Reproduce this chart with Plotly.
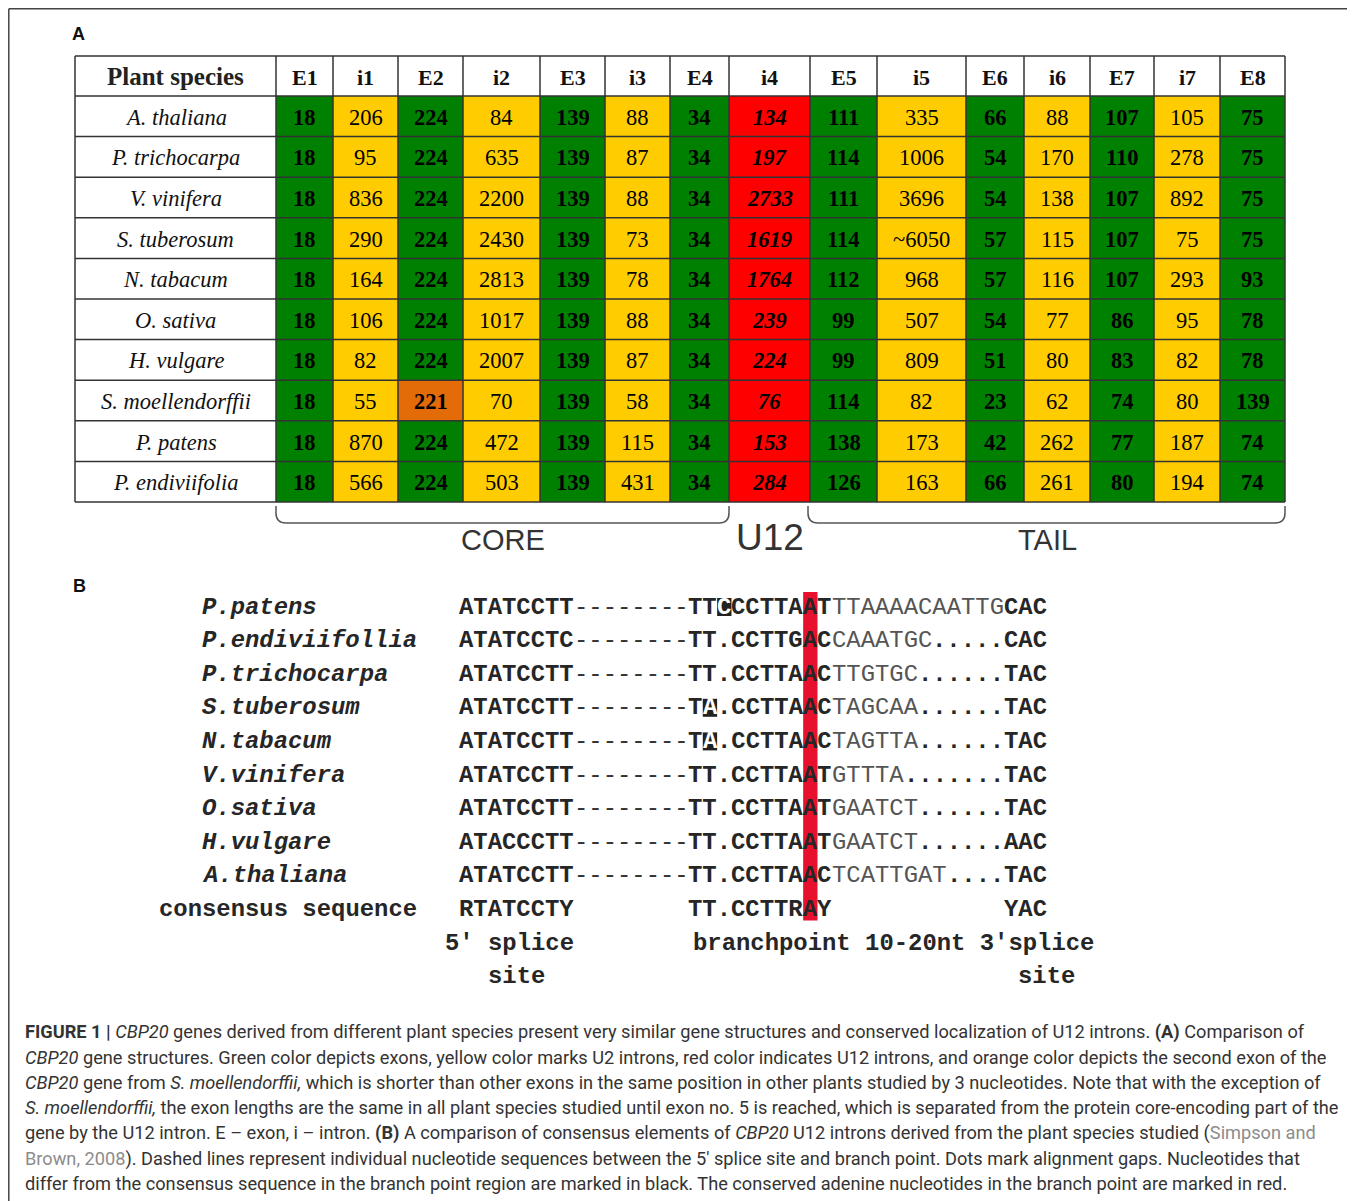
import plotly.graph_objects as go

# ======================= DATA : panel A =======================
segments = ["E1", "i1", "E2", "i2", "E3", "i3", "E4", "i4",
            "E5", "i5", "E6", "i6", "E7", "i7", "E8"]
species_a = ["A. thaliana", "P. trichocarpa", "V. vinifera", "S. tuberosum",
             "N. tabacum", "O. sativa", "H. vulgare", "S. moellendorffii",
             "P. patens", "P. endiviifolia"]
a_thaliana = ["18", "206", "224", "84", "139", "88", "34", "134", "111", "335", "66", "88", "107", "105", "75"]
p_trichocarpa = ["18", "95", "224", "635", "139", "87", "34", "197", "114", "1006", "54", "170", "110", "278", "75"]
v_vinifera = ["18", "836", "224", "2200", "139", "88", "34", "2733", "111", "3696", "54", "138", "107", "892", "75"]
s_tuberosum = ["18", "290", "224", "2430", "139", "73", "34", "1619", "114", "~6050", "57", "115", "107", "75", "75"]
n_tabacum = ["18", "164", "224", "2813", "139", "78", "34", "1764", "112", "968", "57", "116", "107", "293", "93"]
o_sativa = ["18", "106", "224", "1017", "139", "88", "34", "239", "99", "507", "54", "77", "86", "95", "78"]
h_vulgare = ["18", "82", "224", "2007", "139", "87", "34", "224", "99", "809", "51", "80", "83", "82", "78"]
s_moellendorffii = ["18", "55", "221", "70", "139", "58", "34", "76", "114", "82", "23", "62", "74", "80", "139"]
p_patens = ["18", "870", "224", "472", "139", "115", "34", "153", "138", "173", "42", "262", "77", "187", "74"]
p_endiviifolia = ["18", "566", "224", "503", "139", "431", "34", "284", "126", "163", "66", "261", "80", "194", "74"]
u12_segments = ["i4"]
shorter_exons = [("S. moellendorffii", "E2")]
group_labels = ["CORE", "U12", "TAIL"]

# ======================= DATA : panel B =======================
species_b = ["P.patens", "P.endiviifollia", "P.trichocarpa", "S.tuberosum", "N.tabacum",
             "V.vinifera", "O.sativa", "H.vulgare", "A.thaliana"]
five_prime = ["ATATCCTT", "ATATCCTC", "ATATCCTT", "ATATCCTT", "ATATCCTT",
              "ATATCCTT", "ATATCCTT", "ATACCCTT", "ATATCCTT"]
gap_seq = "--------"
branch_region = ["TTCCCTTAAT", "TT.CCTTGAC", "TT.CCTTAAC", "TA.CCTTAAC", "TA.CCTTAAC",
                 "TT.CCTTAAT", "TT.CCTTAAT", "TT.CCTTAAT", "TT.CCTTAAC"]
spacer = ["TTAAAACAATTG", "CAAATGC.....", "TTGTGC......", "TAGCAA......", "TAGTTA......",
          "GTTTA.......", "GAATCT......", "GAATCT......", "TCATTGAT...."]
three_prime = ["CAC", "CAC", "TAC", "TAC", "TAC", "TAC", "TAC", "AAC", "TAC"]
mismatch = {"P.patens": 2, "S.tuberosum": 1, "N.tabacum": 1}   # index inside branch region
branch_adenine = 8                                            # index inside branch region
consensus = ["RTATCCTY", "TT.CCTTRAY", "YAC"]
caption_lines = [
    "<b>FIGURE 1 |</b> <i>CBP20</i> genes derived from different plant species present very similar gene structures and conserved localization of U12 introns. <b>(A)</b> Comparison of",
    "<i>CBP20</i> gene structures. Green color depicts exons, yellow color marks U2 introns, red color indicates U12 introns, and orange color depicts the second exon of the",
    "<i>CBP20</i> gene from <i>S. moellendorffii,</i> which is shorter than other exons in the same position in other plants studied by 3 nucleotides. Note that with the exception of",
    "<i>S. moellendorffii,</i> the exon lengths are the same in all plant species studied until exon no. 5 is reached, which is separated from the protein core-encoding part of the",
    "gene by the U12 intron. E – exon, i – intron. <b>(B)</b> A comparison of consensus elements of <i>CBP20</i> U12 introns derived from the plant species studied (<span style='color:#8c8c8c'>Simpson and</span>",
    "<span style='color:#8c8c8c'>Brown, 2008</span>). Dashed lines represent individual nucleotide sequences between the 5′ splice site and branch point. Dots mark alignment gaps. Nucleotides that",
    "differ from the consensus sequence in the branch point region are marked in black. The conserved adenine nucleotides in the branch point are marked in red.",
]

table = [a_thaliana, p_trichocarpa, v_vinifera, s_tuberosum, n_tabacum,
         o_sativa, h_vulgare, s_moellendorffii, p_patens, p_endiviifolia]

# ======================= LAYOUT (positions / styles) =======================
W, H = 1355, 1201
PAGE_OFF = 8   # default body margin of the html page
col_edges = [276, 333, 398, 463, 540, 605, 670, 729, 810, 877, 966, 1024, 1090, 1154, 1220, 1285]
tab_left, tab_top, head_bot, row_h = 75, 56, 96, 40.6
row_edges = [head_bot + k * row_h for k in range(len(species_a) + 1)]
GREEN, YELLOW, RED, ORANGE = "#008000", "#FFCC00", "#FF0000", "#E36C09"
LINE = "#333333"
SERIF = "Liberation Serif"
MONO = "Liberation Mono"
SANS = "Liberation Sans"
CAP = "Roboto"

seq_x0, cw, seq_fs = 459, 14.34, 23.9
b_y0, b_dy = 607, 33.6
DARK = "#262626"

fig = go.Figure()

# ---- panel A cells (heatmap with per-column edges) ----
def kind(sp, seg):
    if (sp, seg) in shorter_exons:
        return 3
    if seg in u12_segments:
        return 2
    return 0 if seg.startswith("E") else 1

z = [[kind(sp, seg) for seg in segments] for sp in species_a]
fig.add_trace(go.Heatmap(
    z=z, x=col_edges, y=row_edges, zmin=-0.5, zmax=3.5, showscale=False, hoverinfo="skip",
    colorscale=[[0, GREEN], [0.25, GREEN], [0.25, YELLOW], [0.5, YELLOW],
                [0.5, RED], [0.75, RED], [0.75, ORANGE], [1, ORANGE]]))

shapes = []
ann = []
tab_right = col_edges[-1]
tab_bot = row_edges[-1]
# grid lines
for x in [tab_left] + col_edges:
    shapes.append(dict(type="line", x0=x, x1=x, y0=tab_top, y1=tab_bot, line=dict(color=LINE, width=1.5)))
for y in [tab_top] + row_edges:
    shapes.append(dict(type="line", x0=tab_left, x1=tab_right, y0=y, y1=y, line=dict(color=LINE, width=1.5)))

# header texts
ann.append(dict(x=(tab_left + col_edges[0]) / 2, y=(tab_top + head_bot) / 2, text="<b>Plant species</b>",
                font=dict(family=SERIF, size=25, color="#222")))
for j, seg in enumerate(segments):
    ann.append(dict(x=(col_edges[j] + col_edges[j + 1]) / 2, y=(tab_top + head_bot) / 2 + 1,
                    text=f"<b>{seg}</b>", font=dict(family=SERIF, size=22, color="#111")))
# body texts
for i, sp in enumerate(species_a):
    yc = (row_edges[i] + row_edges[i + 1]) / 2 + 1
    ann.append(dict(x=(tab_left + col_edges[0]) / 2, y=yc, text=f"<i>{sp}</i>",
                    font=dict(family=SERIF, size=22.5, color="#111")))
    for j, seg in enumerate(segments):
        k = kind(sp, seg)
        v = table[i][j]
        if k == 2:
            t = f"<b><i>{v}</i></b>"
        elif k in (0, 3):
            t = f"<b>{v}</b>"
        else:
            t = v
        ann.append(dict(x=(col_edges[j] + col_edges[j + 1]) / 2, y=yc, text=t,
                        font=dict(family=SERIF, size=22.5, color="#000")))

# brackets + group labels
def bracket(x0, x1, yt=506, yb=523, r=10):
    return dict(type="path", line=dict(color="#555", width=1.5),
                path=f"M {x0},{yt} L {x0},{yb - r} Q {x0},{yb} {x0 + r},{yb} L {x1 - r},{yb} "
                     f"Q {x1},{yb} {x1},{yb - r} L {x1},{yt}")
i_u12 = segments.index(u12_segments[0])
shapes.append(bracket(col_edges[0], col_edges[i_u12]))
shapes.append(bracket(col_edges[i_u12 + 1] - 2, col_edges[-1]))
ann.append(dict(x=(col_edges[0] + col_edges[i_u12]) / 2, y=540, text=group_labels[0],
                font=dict(family=SANS, size=29, color="#333")))
ann.append(dict(x=(col_edges[i_u12] + col_edges[i_u12 + 1]) / 2, y=537, text=group_labels[1],
                font=dict(family=SANS, size=37, color="#333")))
ann.append(dict(x=(col_edges[i_u12 + 1] + col_edges[-1]) / 2, y=540, text=group_labels[2],
                font=dict(family=SANS, size=29, color="#333")))

# panel letters
ann.append(dict(x=72, y=34, text="<b>A</b>", xanchor="left", font=dict(family=SANS, size=18, color="#111")))
ann.append(dict(x=73, y=586, text="<b>B</b>", xanchor="left", font=dict(family=SANS, size=18, color="#111")))

# ---- panel B ----
def seq(text, col, y, bold=True, color=DARK, italic=False, x=None):
    t = text
    if italic:
        t = f"<i>{t}</i>"
    if bold:
        t = f"<b>{t}</b>"
    ann.append(dict(x=(seq_x0 + col * cw) if x is None else x, y=y, text=t, xanchor="left",
                    font=dict(family=MONO, size=seq_fs, color=color)))

c_gap = len(five_prime[0])
c_br = c_gap + len(gap_seq)
c_sp = c_br + len(branch_region[0])
c_3 = c_sp + len(spacer[0])

# red branch-point bar
n_rows = len(species_b)
shapes.append(dict(type="rect", x0=seq_x0 + (c_br + branch_adenine) * cw, x1=seq_x0 + (c_br + branch_adenine + 1) * cw,
                   y0=b_y0 - 15, y1=b_y0 + n_rows * b_dy + 11, fillcolor="#E8112D", line=dict(width=0), layer="below"))

for i, sp in enumerate(species_b):
    y = b_y0 + i * b_dy
    seq(sp, 0, y, italic=True, x=202)
    seq(five_prime[i], 0, y)
    seq(gap_seq, c_gap, y, bold=False, color="#333")
    br = branch_region[i]
    if sp in mismatch:
        m = mismatch[sp]
        if m > 0:
            seq(br[:m], c_br, y)
        shapes.append(dict(type="rect", x0=seq_x0 + (c_br + m) * cw, x1=seq_x0 + (c_br + m + 1) * cw,
                           y0=y - 9, y1=y + 9, fillcolor="#222", line=dict(width=0)))
        seq(br[m], c_br + m, y, color="#fff")
        seq(br[m + 1:], c_br + m + 1, y)
    else:
        seq(br, c_br, y)
    letters = spacer[i].rstrip(".")
    dots = spacer[i][len(letters):]
    seq(letters, c_sp, y, bold=False, color="#555")
    if dots:
        seq(dots, c_sp + len(letters), y)
    seq(three_prime[i], c_3, y)

yc = b_y0 + n_rows * b_dy
seq("consensus sequence", 0, yc, x=159)
seq(consensus[0], 0, yc)
seq(consensus[1], c_br, yc)
seq(consensus[2], c_3, yc)
seq("5' splice", -1, yc + b_dy)
seq("site", 2, yc + 2 * b_dy)
seq("branchpoint 10-20nt 3'splice", c_br, yc + b_dy, x=seq_x0 + c_br * cw + 5)
seq("site", c_3 + 1, yc + 2 * b_dy)

# ---- caption ----
for k, line in enumerate(caption_lines):
    ann.append(dict(x=25, y=1032 + k * 25.3, text=line, xanchor="left",
                    font=dict(family=CAP, size=18.2, color="#333")))

# ---- frame ----
shapes.append(dict(type="line", x0=8.8, x1=W, y0=8.8, y1=8.8, line=dict(color="#444", width=1.5)))
shapes.append(dict(type="line", x0=8.8, x1=8.8, y0=8.8, y1=H, line=dict(color="#444", width=1.5)))

for a in ann:
    a.setdefault("xanchor", "center")
    a.update(xref="x", yref="y", showarrow=False, yanchor="middle", borderpad=0, borderwidth=0)

fig.update_layout(
    width=W - PAGE_OFF, height=H - PAGE_OFF, autosize=False, margin=dict(l=0, r=0, t=0, b=0),
    paper_bgcolor="white", plot_bgcolor="white", showlegend=False,
    xaxis=dict(range=[PAGE_OFF, W], visible=False, fixedrange=True),
    yaxis=dict(range=[H, PAGE_OFF], visible=False, fixedrange=True),
    shapes=shapes, annotations=ann,
)
fig.write_html("out.html")
